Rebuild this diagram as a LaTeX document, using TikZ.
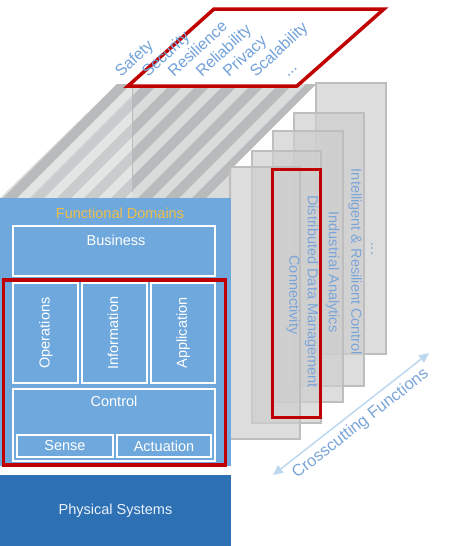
\documentclass[tikz,border=0pt]{standalone}
\usepackage{fontspec}
\setmainfont{Liberation Sans}
\usetikzlibrary{arrows.meta}

\definecolor{redc}{HTML}{C00000}
\definecolor{fdblue}{HTML}{6FA8DC}
\definecolor{psblue}{HTML}{2E70B4}
\definecolor{goldc}{HTML}{F0BE4A}
\definecolor{lblue}{HTML}{72A2DA}
\definecolor{pblue}{HTML}{7BA5D8}
\definecolor{arrowblue}{HTML}{BDD7EE}
\definecolor{stripeL}{HTML}{DADBDB}
\definecolor{stripeD}{HTML}{B9BABB}
\definecolor{panelfill}{HTML}{CECECE}
\definecolor{panelline}{HTML}{BEBEBE}
\definecolor{phystext}{HTML}{EAF2FB}

\begin{document}
\begin{tikzpicture}[x=1pt,y=-1pt,
  fnt/.style={font=\fontsize{14.5}{17}\selectfont},
  wbox/.style={draw=white,line width=1.5pt,inner sep=0pt,outer sep=0pt},
  wtext/.style={fnt,text=white,inner sep=0pt},
  redbox/.style={draw=redc,line width=3.5pt,inner sep=0pt,outer sep=0pt},
  panel/.style={fill=panelfill,fill opacity=0.7,draw=panelline,line width=1.5pt,inner sep=0pt,outer sep=0pt},
  plabel/.style={fnt,text=pblue,rotate=-90,inner sep=0pt},
  toplab/.style={font=\fontsize{16}{19}\selectfont,text=lblue,anchor=base west,rotate=43,inner sep=0pt},
  cclab/.style={font=\fontsize{16.5}{20}\selectfont,text=pblue,anchor=base west,rotate=38,inner sep=0pt},
  ccarrow/.style={draw=arrowblue,line width=1.5pt,{Triangle[length=10pt,width=9pt]}-{Triangle[length=10pt,width=9pt]}}
]
\useasboundingbox (0,0) rectangle (457,546);

% striped top face
\begin{scope}
\clip (0,198) -- (117,84) -- (316,84) -- (231,169) -- (231,198) -- cycle;
\fill[stripeL] (0,80) rectangle (320,200);
\foreach \a in {117,144,...,306}
  \fill[stripeD] (\a,84) -- (\a+14,84) -- (\a-100,198) -- (\a-114,198) -- cycle;
\fill[white,opacity=0.25] (131,84) -- (132,84) -- (132,198) -- (17,198) -- cycle;
\draw[stripeD,line width=0.8pt] (132,84) -- (132,192);
\end{scope}

% system characteristics plane
\draw[redc,line width=3.5pt,fill=white] (128,86) -- (214,9) -- (384,9) -- (297,86) -- cycle;
\node[toplab] (safety) at (121,78) {Safety};
\node[toplab] (security) at (148,78) {Security};
\node[toplab] (resilience) at (174,78) {Resilience};
\node[toplab] (reliability) at (202,78) {Reliability};
\node[toplab] (privacy) at (229,78) {Privacy};
\node[toplab] (scalability) at (256,78) {Scalability};
\node[toplab] (tdots) at (288,78) {...};

% crosscutting function panels (back to front)
\node[panel,minimum width=70,minimum height=271] (p5) at (351,218.5) {};
\node[fnt,text=pblue,rotate=-90,anchor=base,inner sep=0pt] (p5t) at (371,249) {...};
\node[panel,minimum width=70,minimum height=273] (p4) at (329,249.5) {};
\node[plabel] (p4t) at (355,262) {Intelligent \& Resilient Control};
\node[panel,minimum width=70,minimum height=271] (p3) at (308,266.5) {};
\node[plabel] (p3t) at (332.5,272) {Industrial Analytics};
\node[panel,minimum width=69,minimum height=272] (p2) at (286.5,287) {};
\node[plabel] (p2t) at (311.5,291.5) {Distributed Data Management};
\node[panel,minimum width=70,minimum height=272] (p1) at (265,303) {};
\node[plabel] (p1t) at (293,295) {Connectivity};
\node[redbox,minimum width=48,minimum height=248] (redcc) at (296.5,293.5) {};

% crosscutting arrow
\coordinate (ccA) at (273,475);
\coordinate (ccB) at (429,353);
\draw[ccarrow] (ccA) -- (ccB);
\node[cclab] (cc) at (297,479) {Crosscutting Functions};

% functional domains
\node[fill=fdblue,inner sep=0pt,outer sep=0pt,minimum width=231,minimum height=268] (fd) at (115.5,332) {};
\node[fnt,text=goldc,inner sep=0pt] (fdt) at (120,213) {Functional Domains};
\node[wbox,minimum width=202,minimum height=50] (business) at (114,251) {};
\node[wtext] (businesst) at (116,240) {Business};
\node[wbox,minimum width=65,minimum height=100] (operations) at (45.5,333) {};
\node[wtext,rotate=90] (operationst) at (46,333) {Operations};
\node[wbox,minimum width=65,minimum height=100] (information) at (114.5,333) {};
\node[wtext,rotate=90] (informationt) at (113,333) {Information};
\node[wbox,minimum width=64,minimum height=100] (application) at (183,333) {};
\node[wtext,rotate=90] (applicationt) at (183,333) {Application};
\node[wbox,minimum width=202,minimum height=72] (control) at (114,425) {};
\node[wtext] (controlt) at (114,401) {Control};
\node[wbox,minimum width=96,minimum height=22,fnt,text=white] (sense) at (65,446) {Sense};
\node[wbox,minimum width=94,minimum height=22,fnt,text=white] (actuation) at (164,446) {Actuation};
\node[redbox,minimum width=222,minimum height=185] (redfd) at (114.5,372.5) {};

% physical systems
\node[fill=psblue,inner sep=0pt,outer sep=0pt,minimum width=231,minimum height=71,fnt,text=phystext] (phys) at (115.5,510.5) {Physical Systems};
\end{tikzpicture}
\end{document}
